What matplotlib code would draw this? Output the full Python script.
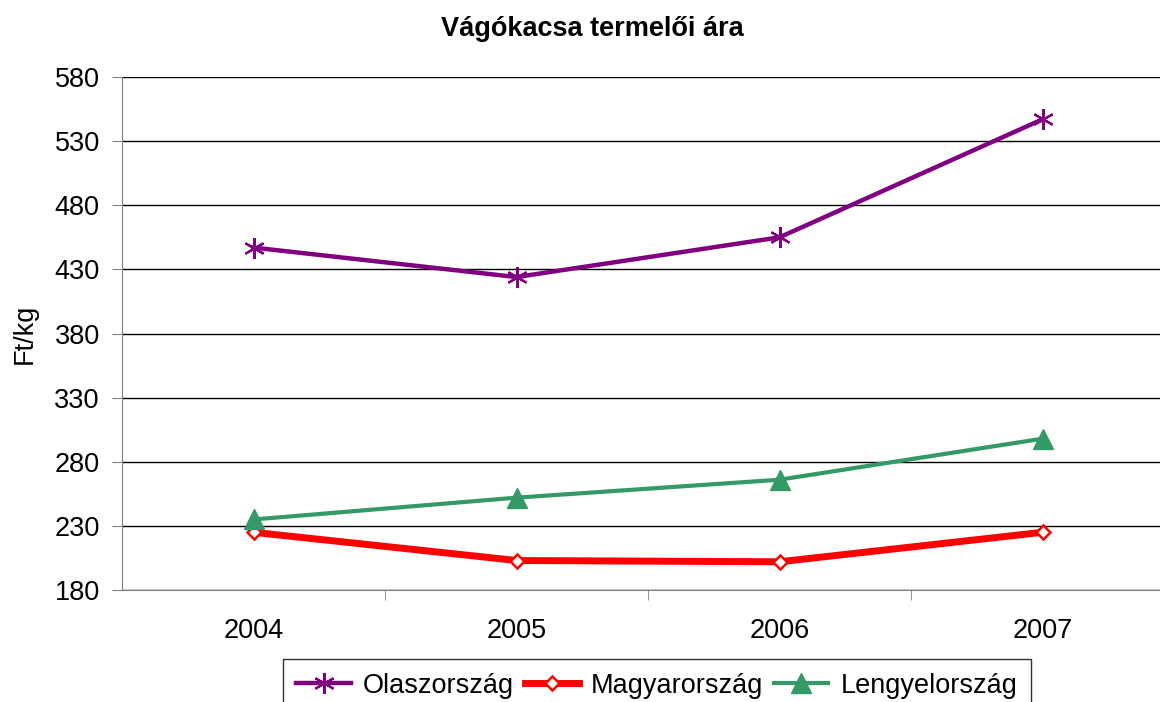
import matplotlib
matplotlib.use("Agg")
import matplotlib.pyplot as plt

years = ["2004", "2005", "2006", "2007"]
olasz = [447, 424, 455, 547]
magyar = [225, 203, 202, 225]
lengyel = [235, 252, 266, 298]
yticks = [180, 230, 280, 330, 380, 430, 480, 530, 580]

plt.rcParams['font.family'] = ['Liberation Sans', 'DejaVu Sans']
FS = 19.5

W, H = 1160, 702
fig = plt.figure(figsize=(W/100, H/100), dpi=100)
ax = fig.add_axes([122/W, 1 - 590/H, 1052/W, (590-77)/H])

x = list(range(len(years)))
ax.plot(x, olasz, color='#800080', lw=3.2, marker=(6, 2, 0), ms=15, mew=1.6,
        label='Olaszország', zorder=3)
ax.plot(x, magyar, color='#FF0000', lw=5, marker='D', ms=7, mfc='white',
        mec='#FF0000', mew=1.8, label='Magyarország', zorder=3)
ax.plot(x, lengyel, color='#339966', lw=3, marker='^', ms=14,
        label='Lengyelország', zorder=3)

ax.set_xlim(-0.5, 3.5)
ax.set_ylim(180, 580)
ax.set_yticks(yticks)
ax.set_yticklabels([str(v) for v in yticks], fontsize=FS)
ax.set_xticks(x)
ax.set_xticklabels(years, fontsize=FS)
ax.set_xticks([0.5, 1.5, 2.5], minor=True)
ax.tick_params(axis='x', which='major', length=0, pad=20)
ax.tick_params(axis='x', which='minor', length=7, color='#808080')
ax.tick_params(axis='y', length=7, color='#808080', pad=9)
ax.yaxis.grid(True, color='black', lw=1)
ax.set_axisbelow(True)
for s in ['top', 'right']:
    ax.spines[s].set_visible(False)
ax.spines['left'].set_color('#808080')
ax.spines['bottom'].set_color('#808080')
ax.set_ylabel('Ft/kg', fontsize=FS, labelpad=12)

fig.text(592/W, 1 - 29/H, 'Vágókacsa termelői ára', ha='center', va='center',
         fontsize=FS, fontweight='bold')

leg = fig.legend(loc='upper center', bbox_to_anchor=(657/W, 1 - 659/H), ncol=3,
                 fontsize=FS, frameon=True, fancybox=False, edgecolor='black',
                 handlelength=2.0, columnspacing=0.4, handletextpad=0.45,
                 borderpad=0.5, borderaxespad=0)
leg.get_frame().set_linewidth(1)

fig.savefig('out.png', dpi=100)
